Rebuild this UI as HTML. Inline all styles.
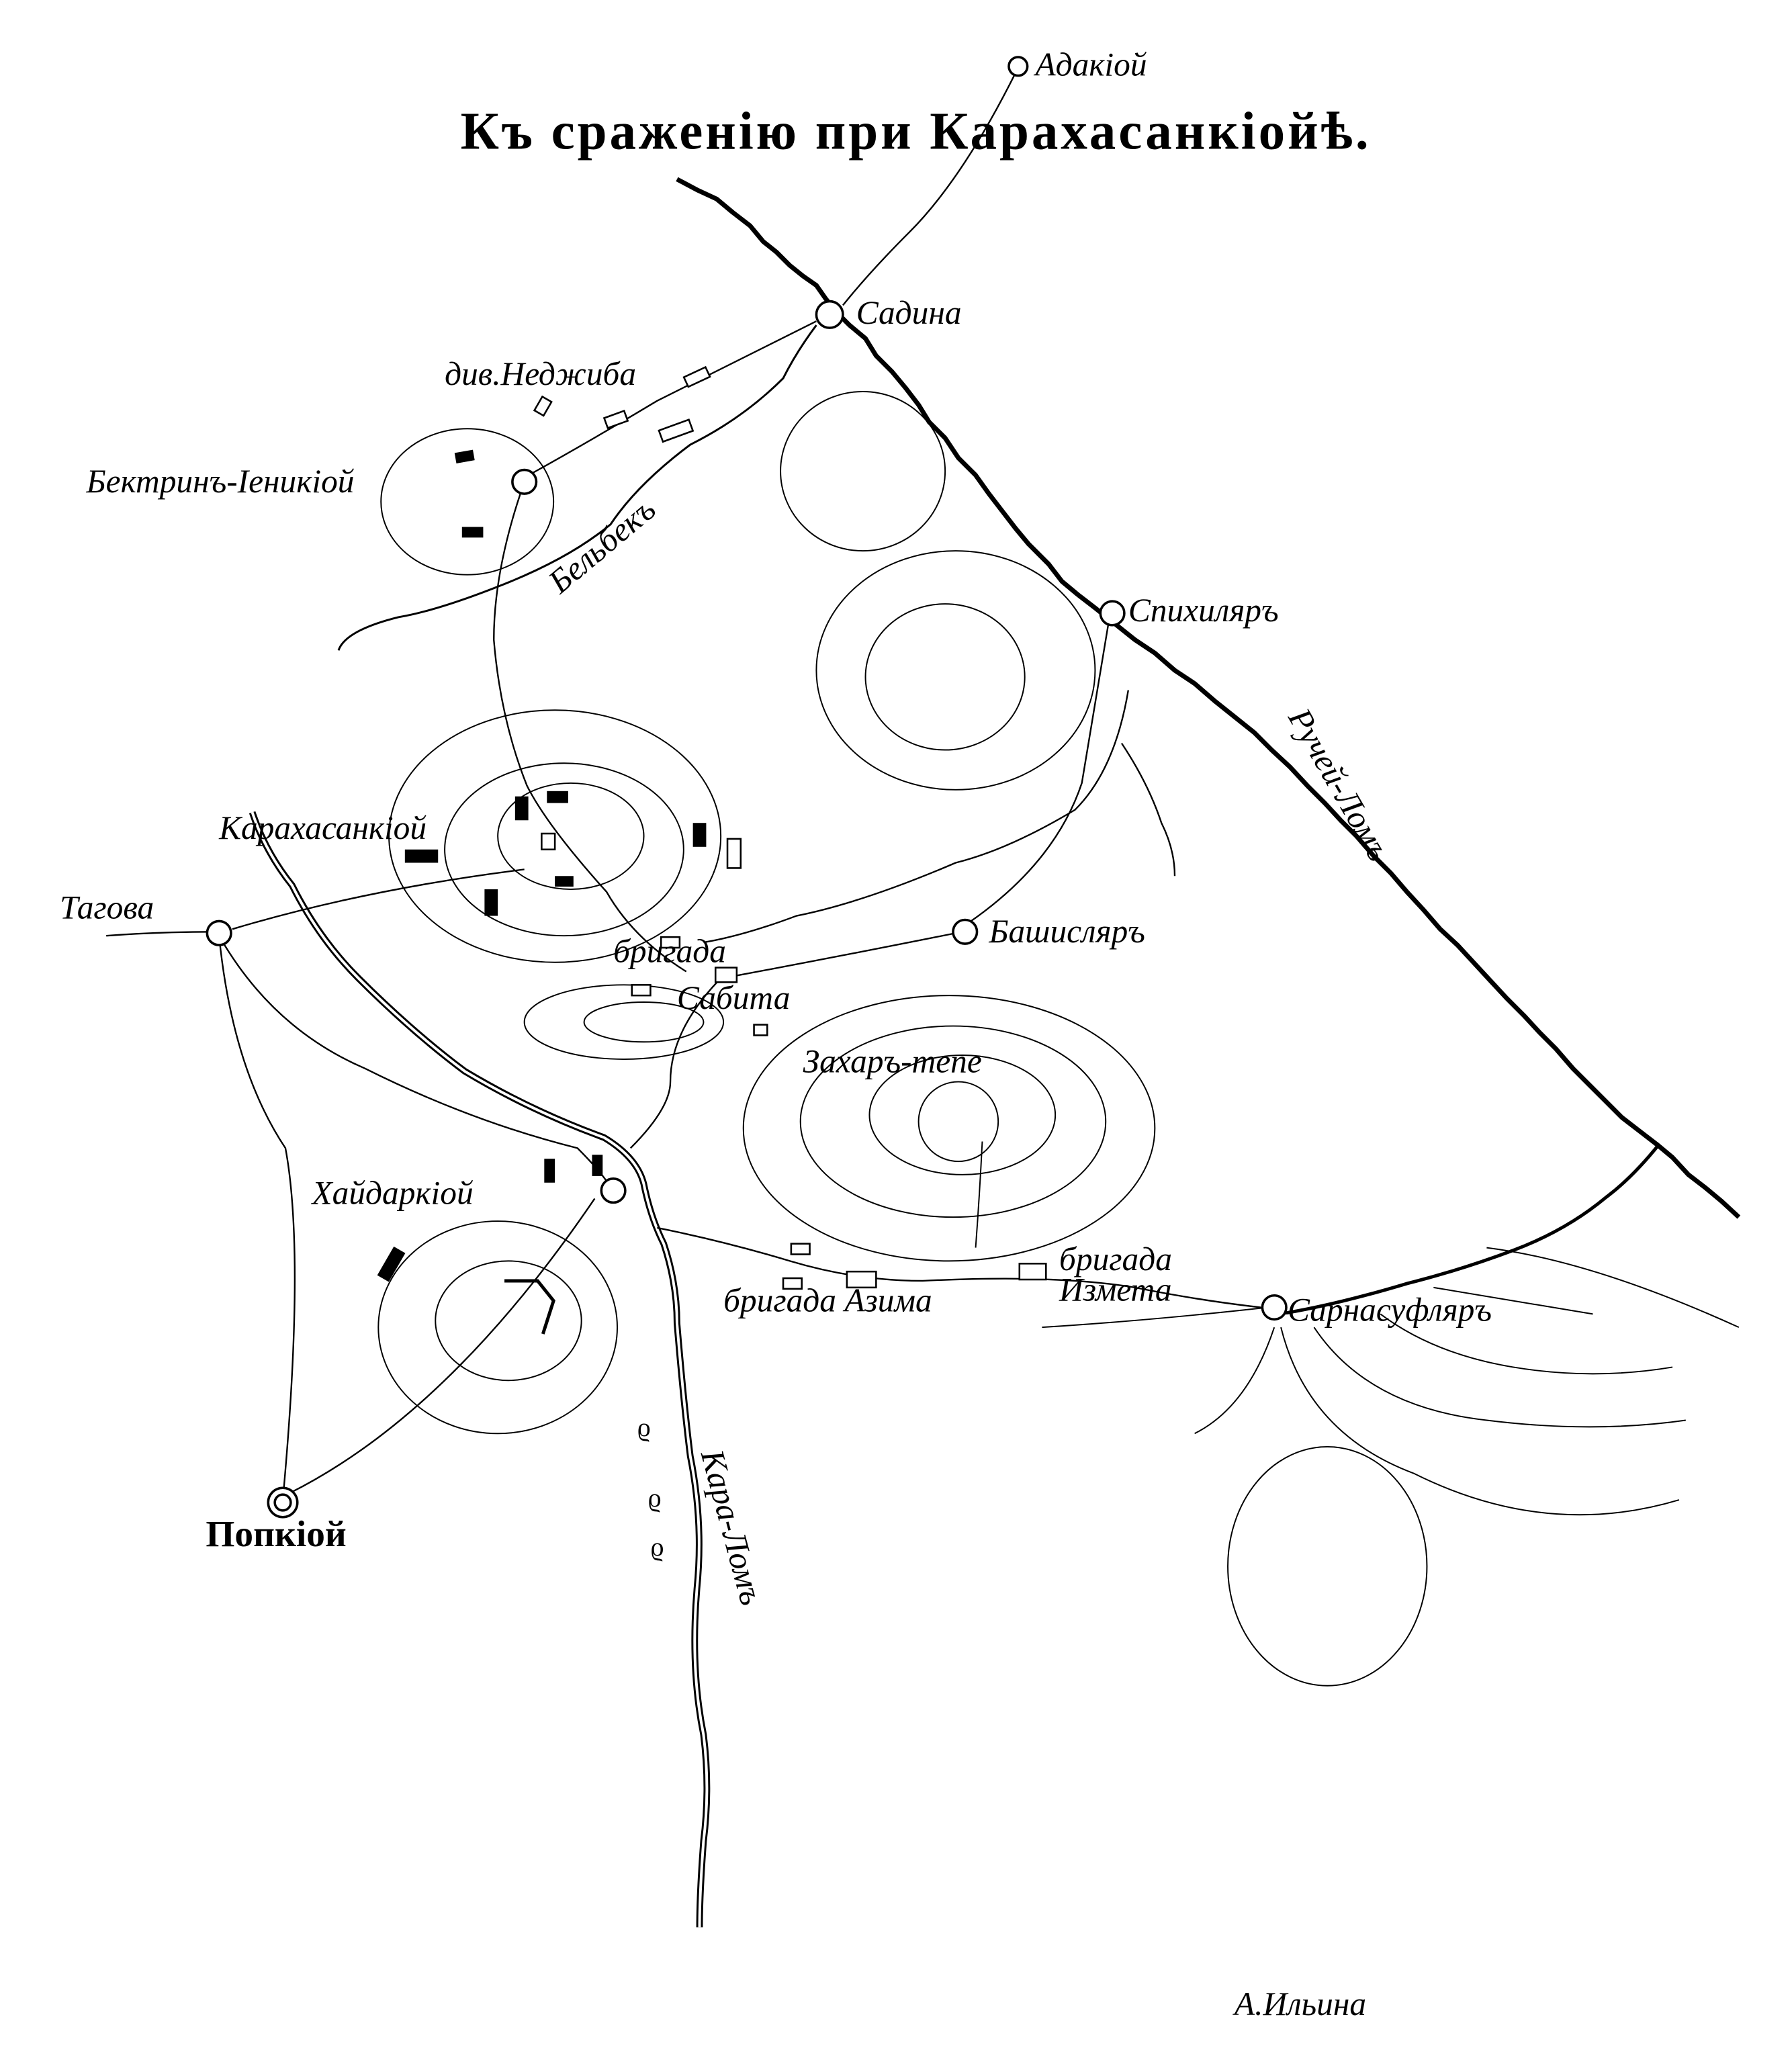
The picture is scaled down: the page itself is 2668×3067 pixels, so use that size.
<!DOCTYPE html>
<html><head><meta charset="utf-8"><style>
html,body{margin:0;padding:0;background:#fff}
svg{display:block}
text{font-family:"Liberation Serif","DejaVu Serif",serif;fill:#000}
.it{font-style:italic;font-size:25px}
</style></head><body>
<svg width="2668" height="3067" viewBox="0 0 1350 1552" xmlns="http://www.w3.org/2000/svg">
<rect width="1350" height="1552" fill="#fff"/>
<text x="690" y="112" text-anchor="middle" font-size="40" font-weight="bold" letter-spacing="2">Къ сраженію при Карахасанкіойѣ.</text>
<g fill="none" stroke="#000">
<!-- big river Ручей Ложъ -->
<polyline stroke-width="3.5" stroke-linejoin="round" points="510,135 525,143 540,150 552,160 565,170 575,182 585,190 595,200 605,208 615,215 622,225 630,235 640,245 652,255 660,268 672,280 682,292 692,305 700,318 712,330 722,345 735,358 745,372 755,385 765,398 775,410 790,425 800,438 812,448 825,458 840,470 855,482 870,492 885,505 900,515 915,528 930,540 945,552 958,565 972,578 985,592 998,605 1010,618 1022,630 1035,645 1048,658 1060,672 1072,685 1085,700 1098,712 1110,725 1122,738 1135,752 1148,765 1160,778 1172,790 1185,805 1198,818 1210,830 1222,842 1235,852 1248,862 1260,872 1272,885 1285,895 1297,905 1310,917"/>
<!-- stream to Sarnasuflyar -->
<path stroke-width="2.5" d="M1250,862 q-20,25 -40,40 q-30,25 -70,40 q-40,15 -80,25 q-50,15 -90,22 q-5,0 -10,2"/>
<!-- Kara-Lom double -->
<path stroke-width="5" d="M190,612 q10,30 30,55 q20,40 50,70 q40,40 80,70 q50,30 105,50 q25,15 30,35 q5,25 15,45 q10,30 10,60 q5,60 10,100 q10,50 5,100 q-5,60 5,110 q5,40 0,80 q-3,40 -3,65"/>
<path stroke-width="2" stroke="#fff" d="M190,612 q10,30 30,55 q20,40 50,70 q40,40 80,70 q50,30 105,50 q25,15 30,35 q5,25 15,45 q10,30 10,60 q5,60 10,100 q10,50 5,100 q-5,60 5,110 q5,40 0,80 q-3,40 -3,65"/>
<!-- Bel'bek stream -->
<path stroke-width="1.5" d="M615,245 q-15,20 -25,40 q-30,30 -70,50 q-40,30 -60,60 q-30,25 -80,45 q-50,20 -80,25 q-40,10 -45,25"/>
<!-- roads -->
<path stroke-width="1.2" d="M765,55 q-40,80 -80,120 q-30,30 -50,55"/>
<path stroke-width="1.2" d="M615,242 q-60,30 -120,60 q-50,30 -95,55"/>
<path stroke-width="1.2" d="M392,372 q-20,60 -20,110 q5,60 25,110 q15,30 60,80 q20,35 60,60"/>
<path stroke-width="1.2" d="M395,655 q-120,15 -220,45"/>
<path stroke-width="1.2" d="M80,705 q40,-3 82,-3"/>
<path stroke-width="1.2" d="M165,705 q10,100 50,160 q15,80 -2,265"/>
<path stroke-width="1.2" d="M165,705 q40,70 110,100 q80,40 160,60 q20,20 25,30"/>
<path stroke-width="1.2" d="M218,1125 q120,-60 230,-222"/>
<path stroke-width="1.2" d="M545,735 q-40,40 -40,80 q0,20 -30,50"/>
<path stroke-width="1.2" d="M555,735 q80,-15 165,-32"/>
<path stroke-width="1.2" d="M835,470 q-10,60 -20,120 q-20,60 -85,105"/>
<path stroke-width="1.2" d="M850,520 q-10,60 -40,90 q-50,30 -90,40 q-70,30 -120,40 q-40,15 -70,20"/>
<path stroke-width="1.2" d="M845,560 q20,30 30,60 q10,20 10,40"/>
<path stroke-width="1.2" d="M495,925 q50,10 100,25 q50,15 100,15 q100,-5 160,5 q50,10 95,15"/>
<path stroke-width="1" d="M785,1000 q80,-5 170,-15"/>
<path stroke-width="1" d="M740,860 q-2,40 -5,80"/>
<!-- hills -->
<ellipse cx="352" cy="378" rx="65" ry="55" stroke-width="1"/>
<ellipse cx="650" cy="355" rx="62" ry="60" stroke-width="1"/>
<ellipse cx="720" cy="505" rx="105" ry="90" stroke-width="1"/>
<ellipse cx="712" cy="510" rx="60" ry="55" stroke-width="1"/>
<ellipse cx="418" cy="630" rx="125" ry="95" stroke-width="1"/>
<ellipse cx="425" cy="640" rx="90" ry="65" stroke-width="1"/>
<ellipse cx="430" cy="630" rx="55" ry="40" stroke-width="1"/>
<ellipse cx="470" cy="770" rx="75" ry="28" stroke-width="1"/>
<ellipse cx="485" cy="770" rx="45" ry="15" stroke-width="1"/>
<ellipse cx="715" cy="850" rx="155" ry="100" stroke-width="1"/>
<ellipse cx="718" cy="845" rx="115" ry="72" stroke-width="1"/>
<ellipse cx="725" cy="840" rx="70" ry="45" stroke-width="1"/>
<ellipse cx="722" cy="845" rx="30" ry="30" stroke-width="1"/>
<ellipse cx="375" cy="1000" rx="90" ry="80" stroke-width="1"/>
<ellipse cx="383" cy="995" rx="55" ry="45" stroke-width="1"/>
<ellipse cx="1000" cy="1180" rx="75" ry="90" stroke-width="1"/>
<path stroke-width="1" d="M965,1000 q20,80 100,110 q100,50 200,20"/>
<path stroke-width="1" d="M990,1000 q40,60 130,70 q80,10 150,0"/>
<path stroke-width="1" d="M1040,990 q40,30 100,40 q60,10 120,0"/>
<path stroke-width="1" d="M1080,970 q60,10 120,20"/>
<path stroke-width="1" d="M1120,940 q80,10 190,60"/>
<path stroke-width="1" d="M960,1000 q-20,60 -60,80"/>
<path stroke-width="2.5" d="M380,965 l25,0 l12,15 l-8,25"/>
</g>
<!-- circles -->
<g fill="#fff" stroke="#000" stroke-width="1.8">
<circle cx="767" cy="50" r="7"/>
<circle cx="625" cy="237" r="10"/>
<circle cx="395" cy="363" r="9"/>
<circle cx="838" cy="462" r="9"/>
<circle cx="165" cy="703" r="9"/>
<circle cx="727" cy="702" r="9"/>
<circle cx="462" cy="897" r="9"/>
<circle cx="960" cy="985" r="9"/>
<circle cx="213" cy="1132" r="11"/>
<circle cx="213" cy="1132" r="6"/>
</g>
<!-- units -->
<g fill="#000">
<rect x="343" y="340" width="14" height="8" transform="rotate(-10 350 344)"/>
<rect x="348" y="397" width="16" height="8"/>
<rect x="388" y="600" width="10" height="18"/>
<rect x="412" y="596" width="16" height="9"/>
<rect x="305" y="640" width="25" height="10"/>
<rect x="365" y="670" width="10" height="20"/>
<rect x="418" y="660" width="14" height="8"/>
<rect x="522" y="620" width="10" height="18"/>
<rect x="410" y="873" width="8" height="18"/>
<rect x="446" y="870" width="8" height="16"/>
<rect x="290" y="940" width="10" height="25" transform="rotate(30 295 952)"/>
</g>
<g fill="#fff" stroke="#000" stroke-width="1.3">
<rect x="516" y="280" width="18" height="8" transform="rotate(-25 525 284)"/>
<rect x="456" y="312" width="16" height="8" transform="rotate(-20 464 316)"/>
<rect x="497" y="320" width="24" height="9" transform="rotate(-20 509 324)"/>
<rect x="405" y="300" width="8" height="12" transform="rotate(30 409 306)"/>
<rect x="408" y="628" width="10" height="12"/>
<rect x="548" y="632" width="10" height="22"/>
<rect x="498" y="706" width="14" height="8"/>
<rect x="476" y="742" width="14" height="8"/>
<rect x="539" y="729" width="16" height="11"/>
<rect x="568" y="772" width="10" height="8"/>
<rect x="596" y="937" width="14" height="8"/>
<rect x="590" y="963" width="14" height="8"/>
<rect x="638" y="958" width="22" height="12"/>
<rect x="768" y="952" width="20" height="12"/>
</g>
<!-- labels -->
<text class="it" x="780" y="57" font-size="22">Адакіой</text>
<text class="it" x="645" y="244">Садина</text>
<text class="it" x="335" y="290" font-size="23">див.Неджиба</text>
<text class="it" x="65" y="371">Бектринъ-Іеникіой</text>
<text class="it" x="422" y="448" font-size="22" transform="rotate(-40 422 448)">Бельбекъ</text>
<text class="it" x="850" y="468">Спихиляръ</text>
<text class="it" x="970" y="540" transform="rotate(60 970 540)">Ручей-Ломъ</text>
<text class="it" x="165" y="632">Карахасанкіой</text>
<text class="it" x="45" y="692">Тагова</text>
<text class="it" x="745" y="710">Башисляръ</text>
<text class="it" x="462" y="725">бригада</text>
<text class="it" x="510" y="760">Сабита</text>
<text class="it" x="605" y="808">Захаръ-тепе</text>
<text class="it" x="235" y="907">Хайдаркіой</text>
<text class="it" x="798" y="957" font-size="23">бригада</text>
<text class="it" x="798" y="980" font-size="23">Измета</text>
<text class="it" x="545" y="988">бригада Азима</text>
<text class="it" x="970" y="995">Сарнасуфляръ</text>
<text x="155" y="1165" font-size="28" font-weight="bold">Попкіой</text>
<text class="it" x="528" y="1095" transform="rotate(75 528 1095)">Кара-Ломъ</text>
<text class="it" x="930" y="1518" font-size="22">А.Ильина</text>
<text x="480" y="1082" font-size="20">ϱ</text>
<text x="488" y="1135" font-size="20">ϱ</text>
<text x="490" y="1172" font-size="20">ϱ</text>
</svg>
</body></html>
